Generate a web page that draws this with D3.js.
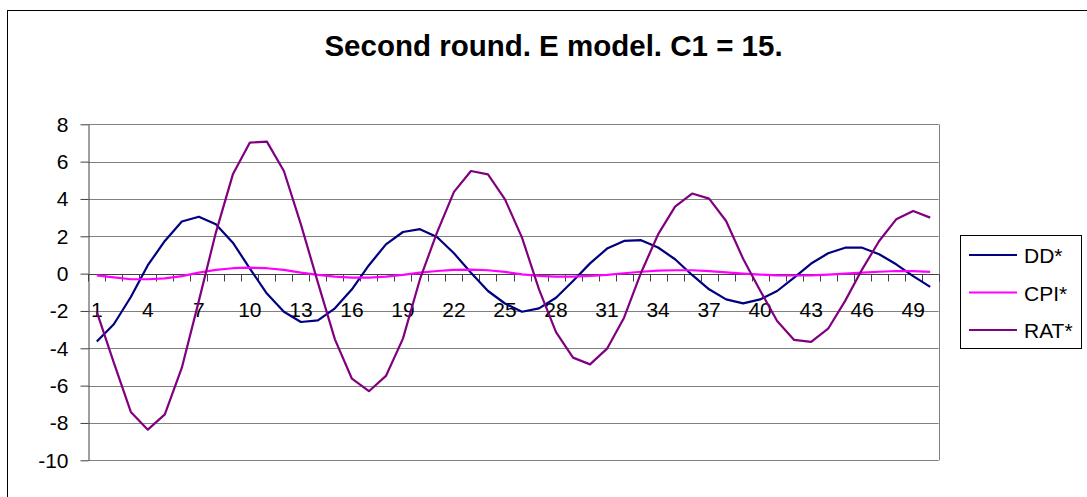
<!DOCTYPE html>
<html>
<head>
<meta charset="utf-8">
<script src="https://cdn.jsdelivr.net/npm/d3@7"></script>
<style>
  body { margin: 0; background: #fff; }
  svg { display: block; font-family: "Liberation Sans", Arial, sans-serif; }
</style>
</head>
<body>
<div id="chart"></div>
<script>
const title = "Second round. E model. C1 = 15.";
const categories = d3.range(1, 51);
const xLabels = d3.range(1, 51, 3);
const yTicks = d3.range(-10, 9, 2);

const seriesNames = ["DD*", "CPI*", "RAT*"];
const seriesColors = ["#000080", "#ff00ff", "#800080"];

const dd = [-3.64,-2.71,-1.25,0.45,1.75,2.79,3.05,2.64,1.66,0.27,
  -1.07,-2.04,-2.59,-2.5,-1.86,-0.84,0.45,1.57,2.23,2.38,
  1.96,1.09,0.05,-0.93,-1.6,-2.04,-1.86,-1.29,-0.39,0.55,
  1.34,1.75,1.79,1.4,0.77,-0.07,-0.84,-1.38,-1.59,-1.38,
  -0.93,-0.21,0.54,1.09,1.39,1.39,1.04,0.5,-0.13,-0.71];
const cpi = [-0.09,-0.2,-0.3,-0.3,-0.25,-0.13,0.05,0.2,0.29,0.32,
  0.29,0.2,0.05,-0.07,-0.16,-0.21,-0.21,-0.16,-0.07,0.05,
  0.14,0.2,0.21,0.18,0.09,-0.04,-0.12,-0.16,-0.16,-0.12,
  -0.07,0.02,0.1,0.16,0.18,0.18,0.13,0.07,0,-0.05,
  -0.09,-0.1,-0.09,-0.05,0,0.05,0.1,0.14,0.13,0.09];
const rat = [-2.05,-4.77,-7.41,-8.36,-7.54,-5.04,-1.46,2.2,5.32,7.02,
  7.07,5.5,2.64,-0.48,-3.52,-5.63,-6.3,-5.48,-3.48,-0.3,
  2.2,4.38,5.5,5.32,3.98,1.93,-0.84,-3.13,-4.5,-4.86,
  -4.02,-2.36,0.05,2.1,3.59,4.29,4.02,2.82,0.8,-0.9,
  -2.54,-3.55,-3.66,-2.95,-1.46,0.23,1.75,2.91,3.36,3.0];
const seriesValues = [dd, cpi, rat];

const width = 1087, height = 497;
const plot = { left: 88.3, right: 938.7, top: 124.3, bottom: 460.3 };

const svg = d3.select("#chart").append("svg")
  .attr("width", width)
  .attr("height", height);

// chart area border (right and bottom edges fall outside the picture)
svg.append("rect")
  .attr("x", 7.5).attr("y", 10.5)
  .attr("width", width + 10).attr("height", height + 10)
  .attr("fill", "#fff").attr("stroke", "#000");

svg.append("text")
  .attr("x", 553.5).attr("y", 56)
  .attr("text-anchor", "middle")
  .attr("font-size", 29.5).attr("font-weight", "bold")
  .text(title);

const x = d3.scaleBand().domain(categories).range([plot.left, plot.right]).padding(0);
const xc = d => x(d) + x.bandwidth() / 2;
const y = d3.scaleLinear().domain([-10, 8]).range([plot.bottom, plot.top]);

// gridlines
svg.append("g")
  .selectAll("line")
  .data(yTicks)
  .join("line")
  .attr("x1", plot.left).attr("x2", plot.right)
  .attr("y1", d => Math.round(y(d)) + 0.5).attr("y2", d => Math.round(y(d)) + 0.5)
  .attr("stroke", "#808080");

svg.append("line")
  .attr("x1", Math.round(plot.right) + 0.5).attr("x2", Math.round(plot.right) + 0.5)
  .attr("y1", plot.top).attr("y2", plot.bottom)
  .attr("stroke", "#808080");

// y axis
const gy = svg.append("g")
  .attr("transform", `translate(${Math.round(plot.left) + 0.5},0)`)
  .call(d3.axisLeft(y).tickValues(yTicks).tickFormat(d => String(d))
    .tickSize(8).tickPadding(12).tickSizeOuter(0));
gy.select(".domain").attr("stroke", "#404040");
gy.selectAll(".tick line").attr("stroke", "#404040");
gy.selectAll(".tick text")
  .attr("font-size", 21)
  .attr("fill", "#000")
  .attr("font-family", "'Liberation Sans', Arial, sans-serif");

// category axis crossing at zero
const y0 = Math.round(y(0)) + 0.5;
const gx = svg.append("g");
gx.selectAll("line.tk")
  .data(d3.range(0, categories.length + 1))
  .join("line")
  .attr("class", "tk")
  .attr("x1", i => Math.round(plot.left + i * x.bandwidth()) + 0.5)
  .attr("x2", i => Math.round(plot.left + i * x.bandwidth()) + 0.5)
  .attr("y1", y0).attr("y2", y0 + 7)
  .attr("stroke", "#404040");
gx.append("line")
  .attr("x1", plot.left).attr("x2", plot.right)
  .attr("y1", y0).attr("y2", y0)
  .attr("stroke", "#404040");
gx.selectAll("text")
  .data(xLabels)
  .join("text")
  .attr("x", d => xc(d))
  .attr("y", 317)
  .attr("text-anchor", "middle")
  .attr("font-size", 21)
  .text(d => d);

// series lines
const line = d3.line()
  .x((d, i) => xc(categories[i]))
  .y(d => y(d));

svg.append("g")
  .selectAll("path")
  .data(seriesValues)
  .join("path")
  .attr("d", line)
  .attr("fill", "none")
  .attr("stroke", (d, i) => seriesColors[i])
  .attr("stroke-width", 2.2)
  .attr("stroke-linejoin", "round");

// legend
const legend = svg.append("g");
legend.append("rect")
  .attr("x", 960.5).attr("y", 235.5)
  .attr("width", 121).attr("height", 113)
  .attr("fill", "#fff").attr("stroke", "#000");
const entries = legend.selectAll("g")
  .data(seriesNames)
  .join("g")
  .attr("transform", (d, i) => `translate(0,${255 + i * 37.5})`);
entries.append("line")
  .attr("x1", 969).attr("x2", 1017)
  .attr("stroke", (d, i) => seriesColors[i])
  .attr("stroke-width", 2.2);
entries.append("text")
  .attr("x", 1024).attr("y", 8)
  .attr("font-size", 21)
  .text(d => d);
</script>
</body>
</html>
